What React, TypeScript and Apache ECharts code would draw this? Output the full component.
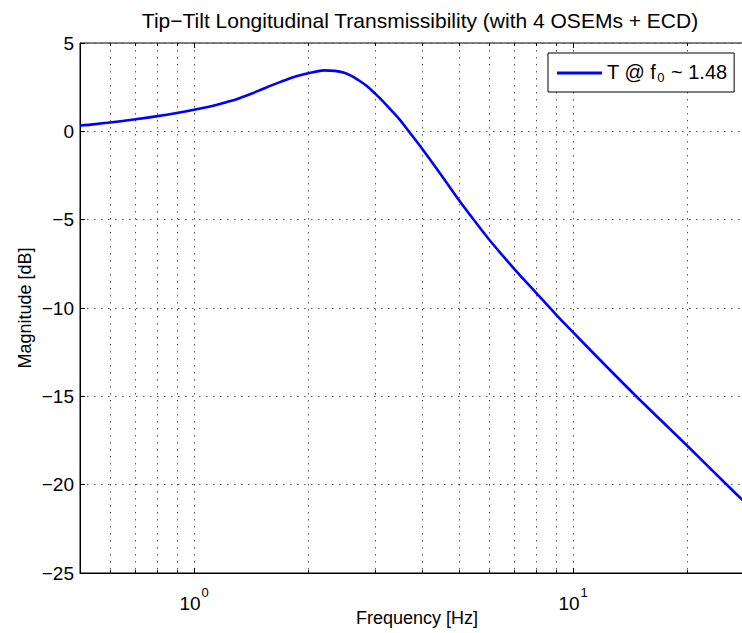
import React, { useEffect, useRef } from 'react';
import * as echarts from 'echarts';

// Frequency (Hz) and magnitude (dB)
const freqHz = [0.5, 0.55, 0.6, 0.7, 0.8, 0.9, 1.0, 1.07, 1.15, 1.22, 1.3, 1.415, 1.5, 1.6, 1.73, 1.8, 1.87, 2.0, 2.1, 2.2, 2.35, 2.49, 2.6, 2.7, 2.85, 3.0, 3.15, 3.31, 3.5, 3.7, 4.0, 4.5, 5.0, 5.5, 6.0, 7.0, 8.0, 9.0, 10, 12.1, 14.8, 20, 25, 30];
const magnitudeDb = [0.33, 0.41, 0.5, 0.68, 0.86, 1.04, 1.22, 1.35, 1.5, 1.66, 1.83, 2.13, 2.35, 2.6, 2.88, 3.02, 3.13, 3.29, 3.38, 3.45, 3.42, 3.31, 3.14, 2.93, 2.58, 2.15, 1.7, 1.2, 0.62, -0.05, -1.0, -2.51, -3.9, -5.08, -6.12, -7.8, -9.16, -10.36, -11.38, -13.2, -15.08, -17.8, -19.85, -21.5];

const majorTicksX = [1, 10];
const minorTicksX = [0.6, 0.7, 0.8, 0.9, 2, 3, 4, 5, 6, 7, 8, 9, 20, 30];

const X_MIN = 0.5;
const X_MAX = 30;
const Y_MIN = -25;
const Y_MAX = 5;
const Y_STEP = 5;

const TITLE = 'Tip\u2212Tilt Longitudinal Transmissibility (with 4 OSEMs + ECD)';
const X_NAME = 'Frequency [Hz]';
const Y_NAME = 'Magnitude [dB]';
const SERIES_NAME = 'T @ f0 ~ 1.48';

const FONT = '"Liberation Sans", Arial, Helvetica, sans-serif';

export default function App() {
  const ref = useRef<HTMLDivElement>(null);

  useEffect(() => {
    if (!ref.current) return;
    const chart = echarts.init(ref.current, undefined, { renderer: 'svg' });

    const lineData = freqHz.map((f, i) => [f, magnitudeDb[i]]);
    const gridData = [
      ...majorTicksX.map((v) => [v, 1]),
      ...minorTicksX.map((v) => [v, 0]),
    ];

    const option: any = {
      animation: false,
      backgroundColor: '#fff',
      title: {
        text: TITLE,
        left: 415,
        top: 5,
        textAlign: 'center',
        textStyle: { fontFamily: FONT, fontSize: 21, fontWeight: 'normal', color: '#000' },
      },
      legend: {
        data: [SERIES_NAME],
        left: 548,
        top: 53,
        orient: 'vertical',
        padding: [8, 7, 8, 9],
        backgroundColor: '#fff',
        borderColor: '#000',
        borderWidth: 1,
        borderRadius: 0,
        icon: 'rect',
        itemWidth: 45,
        itemHeight: 3,
        formatter: () => '{a|T @ f}{s|0}{a| ~ 1.48}',
        textStyle: {
          fontFamily: FONT,
          color: '#000',
          rich: {
            a: { fontFamily: FONT, fontSize: 20, color: '#000', lineHeight: 22, verticalAlign: 'top' },
            s: { fontFamily: FONT, fontSize: 13, color: '#000', lineHeight: 13, verticalAlign: 'bottom', padding: [10, 1, 0, 1] },
          },
        },
      },
      grid: {
        left: 80,
        top: 43,
        width: 674,
        height: 530,
        containLabel: false,
        outerBoundsMode: 'none',
        show: true,
        borderColor: '#000',
        borderWidth: 1,
        backgroundColor: 'transparent',
      },
      xAxis: {
        type: 'log',
        logBase: 10,
        min: X_MIN,
        max: X_MAX,
        name: X_NAME,
        nameLocation: 'middle',
        nameGap: 36,
        nameMoveOverlap: false,
        nameTextStyle: { fontFamily: FONT, fontSize: 18, color: '#000' },
        axisLine: { show: true, onZero: false, lineStyle: { color: '#000', width: 1 } },
        axisTick: { show: false },
        minorTick: { show: false },
        splitLine: { show: false },
        axisLabel: {
          margin: 21,
          showMinLabel: false,
          showMaxLabel: false,
          formatter: (v: number) => {
            const e = Math.round(Math.log10(v));
            if (Math.abs(Math.log10(v) - e) > 1e-6) return '';
            return `{b|10}{s|${e}}`;
          },
          rich: {
            b: { fontFamily: FONT, fontSize: 19, color: '#000', lineHeight: 19, verticalAlign: 'bottom' },
            s: { fontFamily: FONT, fontSize: 13, color: '#000', lineHeight: 13, verticalAlign: 'bottom', padding: [0, 0, 14, 1] },
          },
        },
      },
      yAxis: {
        type: 'value',
        min: Y_MIN,
        max: Y_MAX,
        interval: Y_STEP,
        name: Y_NAME,
        nameLocation: 'middle',
        nameGap: 46,
        nameMoveOverlap: false,
        nameTextStyle: { fontFamily: FONT, fontSize: 18, color: '#000' },
        axisLine: { show: true, onZero: false, lineStyle: { color: '#000', width: 1 } },
        axisTick: { show: true, inside: true, length: 5, lineStyle: { color: '#000', width: 1 } },
        axisLabel: {
          margin: 6,
          fontFamily: FONT,
          fontSize: 19,
          color: '#000',
          formatter: (v: number) => (v < 0 ? '\u2212' + Math.abs(v) : String(v)),
        },
        splitLine: { show: true, lineStyle: { color: '#555', width: 1, type: [1.5, 5.5] } },
      },
      series: [
        {
          type: 'custom',
          name: 'xgrid',
          silent: true,
          z: 1,
          data: gridData,
          renderItem: (params: any, api: any) => {
            const v = api.value(0);
            const major = api.value(1) === 1;
            const top = api.coord([v, Y_MAX]);
            const bot = api.coord([v, Y_MIN]);
            const x = Math.round(top[0]) + 0.5;
            const len = major ? 5 : 3;
            return {
              type: 'group',
              children: [
                {
                  type: 'line',
                  shape: { x1: x, y1: top[1], x2: x, y2: bot[1] },
                  style: { stroke: '#555', lineWidth: 1, lineDash: [1.5, 5.5] },
                },
                {
                  type: 'line',
                  shape: { x1: x, y1: bot[1], x2: x, y2: bot[1] - len },
                  style: { stroke: '#000', lineWidth: 1 },
                },
                {
                  type: 'line',
                  shape: { x1: x, y1: top[1], x2: x, y2: top[1] + len },
                  style: { stroke: '#000', lineWidth: 1 },
                },
              ],
            };
          },
        },
        {
          type: 'line',
          name: SERIES_NAME,
          data: lineData,
          showSymbol: false,
          symbol: 'none',
          smooth: 0.35,
          z: 3,
          itemStyle: { color: '#0000ff' },
          lineStyle: { color: '#0000ff', width: 2.6 },
        },
      ],
    };

    chart.setOption(option);
    return () => {
      chart.dispose();
    };
  }, []);

  return (
    <div
      style={{
        position: 'fixed',
        left: 0,
        top: 0,
        width: 742,
        height: 633,
        overflow: 'hidden',
        background: '#fff',
      }}
    >
      <div ref={ref} style={{ width: 790, height: 633 }} />
    </div>
  );
}
